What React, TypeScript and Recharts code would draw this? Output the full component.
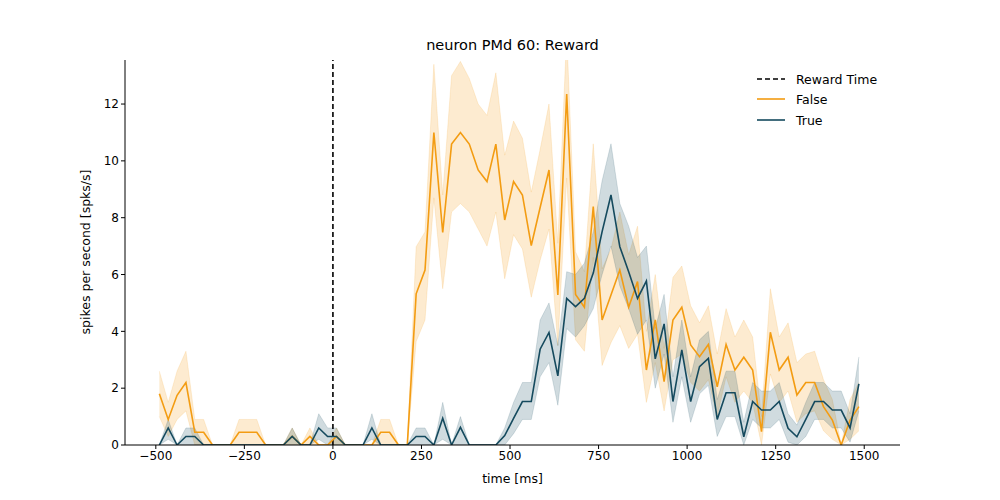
import { Area, ComposedChart, Line, ReferenceLine, XAxis, YAxis } from "recharts";

const times = [
	-490, -465, -440, -415, -390, -365, -340, -315, -290, -265, -240, -215, -190, -165, -140, -115, -90, -65, -40, -15,
	10, 35, 60, 85, 110, 135, 160, 185, 210, 235, 260, 285, 310, 335, 360, 385, 410, 435, 460, 485,
	510, 535, 560, 585, 610, 635, 660, 685, 710, 735, 760, 785, 810, 835, 860, 885, 910, 935, 960, 985,
	1010, 1035, 1060, 1085, 1110, 1135, 1160, 1185, 1210, 1235, 1260, 1285, 1310, 1335, 1360, 1385, 1410, 1435, 1460, 1485,
];

const falseMean = [
	1.8, 0.9, 1.75, 2.2, 0.45, 0.45, 0, 0, 0, 0.45, 0.45, 0.45, 0, 0, 0, 0.3, 0, 0.3, 0, 0,
	0.3, 0, 0, 0, 0, 0.45, 0.45, 0, 0, 5.32, 6.16, 11.0, 7.48, 10.59, 11.0, 10.59, 9.68, 9.27, 10.59, 7.92,
	9.27, 8.8, 7.02, 8.36, 9.68, 5.28, 12.35, 5.3, 4.85, 8.39, 4.4, 5.28, 6.16, 4.85, 5.75, 2.64, 4.4, 2.23, 4.4, 4.85,
	3.52, 3.11, 3.54, 2.05, 3.54, 2.64, 3.09, 2.64, 0.47, 3.97, 2.64, 3.09, 1.76, 2.2, 2.2, 1.35, 0.88, 0, 0.88, 1.35,
];
const falseLow = [
	1.0, 0.3, 0.9, 1.2, 0, 0, 0, 0, 0, 0, 0, 0, 0, 0, 0, 0, 0, 0, 0, 0,
	0, 0, 0, 0, 0, 0, 0, 0, 0, 3.64, 4.4, 8.7, 5.5, 8.2, 8.5, 8.2, 7.6, 7.0, 8.2, 5.85,
	7.4, 6.9, 5.2, 6.5, 7.6, 3.5, 9.4, 3.7, 3.3, 6.6, 2.8, 3.6, 4.2, 3.4, 3.9, 1.5, 2.9, 1.2, 3.0, 3.2,
	2.2, 1.9, 2.3, 1.0, 2.4, 1.5, 1.9, 1.5, 0, 2.5, 1.5, 1.9, 0.8, 1.1, 1.2, 0.5, 0.2, 0, 0.2, 0.5,
];
const falseHigh = [
	2.6, 1.5, 2.6, 3.3, 0.9, 0.9, 0, 0, 0, 0.9, 0.9, 0.9, 0, 0, 0, 0.6, 0, 0.6, 0, 0,
	0.6, 0, 0, 0, 0, 0.9, 0.9, 0, 0, 6.98, 7.5, 13.4, 8.8, 13.0, 13.5, 12.9, 12.0, 11.6, 13.1, 10.2,
	11.4, 10.8, 8.9, 10.4, 12.0, 7.1, 14.5, 6.8, 6.1, 10.6, 6.2, 6.9, 8.2, 6.7, 7.7, 4.0, 6.0, 3.4, 5.9, 6.3,
	4.9, 4.3, 4.9, 3.2, 4.8, 3.8, 4.4, 3.8, 1.0, 5.5, 3.8, 4.3, 2.9, 3.2, 3.3, 2.3, 1.6, 0, 1.6, 2.2,
];

const trueMean = [
	0, 0.6, 0, 0.3, 0.3, 0, 0, 0, 0, 0, 0, 0, 0, 0, 0, 0.3, 0, 0, 0.6, 0.3,
	0.3, 0, 0, 0, 0.6, 0, 0, 0, 0, 0.3, 0.3, 0, 0.94, 0, 0.62, 0, 0, 0, 0, 0.33,
	0.94, 1.53, 1.53, 3.37, 3.96, 2.43, 5.16, 4.87, 5.16, 6.05, 7.51, 8.8, 6.98, 6.1, 5.16, 5.77, 3.03, 4.26, 1.53, 3.35,
	1.53, 2.76, 3.05, 0.9, 1.84, 1.84, 0.29, 1.53, 1.23, 1.23, 1.53, 0.59, 0.29, 0.9, 1.53, 1.53, 1.23, 1.23, 0.6, 2.15,
];
const trueLow = [
	0, 0.2, 0, 0, 0, 0, 0, 0, 0, 0, 0, 0, 0, 0, 0, 0, 0, 0, 0.2, 0,
	0, 0, 0, 0, 0.2, 0, 0, 0, 0, 0, 0, 0, 0.2, 0, 0, 0, 0, 0, 0, 0,
	0.4, 0.9, 0.9, 2.4, 2.9, 1.4, 4.1, 3.8, 4.2, 4.8, 6.0, 7.0, 5.6, 4.8, 3.9, 4.4, 2.0, 3.2, 0.8, 2.4,
	0.8, 1.8, 2.1, 0.3, 1.0, 1.0, 0, 0.9, 0.6, 0.6, 0.9, 0.1, 0, 0.3, 0.9, 0.9, 0.6, 0.6, 0.1, 1.2,
];
const trueHigh = [
	0, 0.9, 0, 0.6, 0.6, 0, 0, 0, 0, 0, 0, 0, 0, 0, 0, 0.6, 0, 0, 1.1, 0.6,
	0.6, 0, 0, 0, 1.1, 0, 0, 0, 0, 0.6, 0.6, 0, 1.5, 0, 1.0, 0, 0, 0, 0, 0.6,
	1.5, 2.2, 2.2, 4.4, 5.0, 3.5, 6.1, 6.0, 6.4, 7.5, 9.3, 10.6, 8.5, 7.7, 6.6, 7.0, 4.1, 5.3, 2.4, 4.4,
	2.4, 3.7, 4.0, 1.6, 2.6, 2.6, 0.8, 2.2, 1.9, 1.9, 2.2, 1.1, 0.7, 1.5, 2.2, 2.2, 1.9, 1.9, 1.1, 3.1,
];

const xTicks = [-500, -250, 0, 250, 500, 750, 1000, 1250, 1500];
const yTicks = [0, 2, 4, 6, 8, 10, 12];

const ORANGE = "#f39c12";
const BLUE = "#154a5e";
const FONT = "DejaVu Sans, sans-serif";

const data = times.map((t, i) => ({
	t,
	falseMean: falseMean[i],
	falseBand: [falseLow[i], falseHigh[i]],
	trueMean: trueMean[i],
	trueBand: [trueLow[i], trueHigh[i]],
}));

const tick = { fill: "#000", fontSize: 12, fontFamily: FONT };

export default function App() {
	return (
		<div style={{ position: "relative", width: 1000, height: 500, margin: -8, background: "#fff", fontFamily: FONT }}>
			<ComposedChart
				width={1000}
				height={500}
				data={data}
				margin={{ top: 60, right: 100, bottom: 25, left: 80 }}
			>
				<XAxis
					dataKey="t"
					type="number"
					domain={[-587, 1601]}
					ticks={xTicks}
					tickFormatter={(v) => String(v).replace("-", "\u2212")}
					tick={tick}
					axisLine={{ stroke: "#000" }}
					tickLine={{ stroke: "#000" }}
					tickSize={4}
					height={30}
					allowDataOverflow
				/>
				<YAxis
					type="number"
					domain={[0, 13.55]}
					ticks={yTicks}
					tick={tick}
					axisLine={{ stroke: "#000" }}
					tickLine={{ stroke: "#000" }}
					tickSize={4}
					width={45}
					allowDataOverflow
				/>
				<Area dataKey="falseBand" stroke={ORANGE} strokeOpacity={0.15} fill={ORANGE} fillOpacity={0.2} isAnimationActive={false} type="linear" />
				<Area dataKey="trueBand" stroke={BLUE} strokeOpacity={0.15} fill={BLUE} fillOpacity={0.2} isAnimationActive={false} type="linear" />
				<ReferenceLine x={0} stroke="#000" strokeWidth={1.6} strokeDasharray="5 3" />
				<Line dataKey="falseMean" stroke={ORANGE} strokeWidth={1.6} dot={false} isAnimationActive={false} type="linear" />
				<Line dataKey="trueMean" stroke={BLUE} strokeWidth={1.6} dot={false} isAnimationActive={false} type="linear" />
			</ComposedChart>
			<div style={{ position: "absolute", top: 37, left: 0, width: 1025, textAlign: "center", fontSize: 14.5 }}>
				neuron PMd 60: Reward
			</div>
			<div style={{ position: "absolute", top: 471, left: 0, width: 1025, textAlign: "center", fontSize: 12.5 }}>
				time [ms]
			</div>
			<div
				style={{
					position: "absolute",
					left: 85,
					top: 252,
					fontSize: 12.5,
					transform: "translate(-50%, -50%) rotate(-90deg)",
					whiteSpace: "nowrap",
				}}
			>
				spikes per second [spks/s]
			</div>
			<svg style={{ position: "absolute", left: 750, top: 66 }} width={160} height={66}>
				<line x1={7} x2={35} y1={13} y2={13} stroke="#000" strokeWidth={1.6} strokeDasharray="5 3" />
				<line x1={7} x2={35} y1={33} y2={33} stroke={ORANGE} strokeWidth={1.6} />
				<line x1={7} x2={35} y1={54} y2={54} stroke={BLUE} strokeWidth={1.6} />
				<text x={46} y={17.5} fontSize={12.5} fontFamily={FONT}>Reward Time</text>
				<text x={46} y={37.5} fontSize={12.5} fontFamily={FONT}>False</text>
				<text x={46} y={58.5} fontSize={12.5} fontFamily={FONT}>True</text>
			</svg>
		</div>
	);
}
